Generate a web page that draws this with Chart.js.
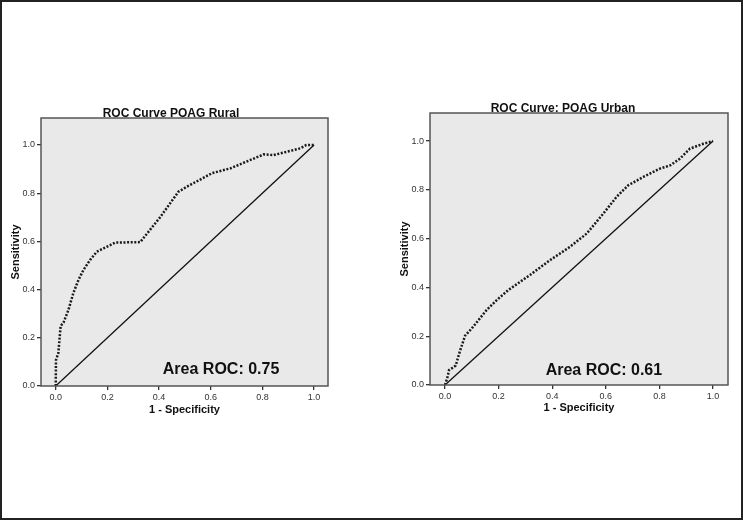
<!DOCTYPE html>
<html>
<head>
<meta charset="utf-8">
<script src="https://cdn.jsdelivr.net/npm/chart.js@4.4.1/dist/chart.umd.min.js"></script>
<style>
  html, body { margin: 0; padding: 0; background: #fff; }
  #page { position: relative; width: 743px; height: 520px; box-sizing: border-box; border: 2px solid #222; overflow: hidden; }
  .box { position: absolute; top: 88px; width: 342px; height: 340px; }
  #rural { left: -2px; }
  #urban { left: 388px; }
</style>
</head>
<body>
<div id="page">
  <div class="box" id="rural"><canvas id="ruralChart"></canvas></div>
  <div class="box" id="urban"><canvas id="urbanChart"></canvas></div>
</div>
<script>
// values
const tickValues = [0, 0.2, 0.4, 0.6, 0.8, 1.0];
const refLine = [0, 1];

const ruralFpr = [0, 0.001, 0.01, 0.019, 0.03, 0.049, 0.068, 0.088, 0.107, 0.133, 0.159, 0.185, 0.23, 0.327, 0.404, 0.475, 0.508, 0.605, 0.676, 0.805, 0.843, 0.947, 0.97, 1.0];
const ruralTpr = [0, 0.108, 0.136, 0.249, 0.263, 0.315, 0.385, 0.44, 0.481, 0.523, 0.557, 0.571, 0.595, 0.597, 0.70, 0.806, 0.827, 0.883, 0.903, 0.961, 0.958, 0.986, 1.0, 1.0];

const urbanFpr = [0, 0.009, 0.015, 0.025, 0.04, 0.056, 0.075, 0.1, 0.155, 0.193, 0.236, 0.317, 0.392, 0.466, 0.529, 0.591, 0.64, 0.684, 0.74, 0.802, 0.84, 0.877, 0.914, 0.964, 1.0];
const urbanTpr = [0, 0.031, 0.061, 0.068, 0.08, 0.14, 0.202, 0.232, 0.307, 0.348, 0.389, 0.451, 0.512, 0.566, 0.621, 0.703, 0.771, 0.819, 0.853, 0.887, 0.90, 0.928, 0.969, 0.989, 1.0];

function pts(xs, ys) {
  return xs.map((x, i) => ({ x: x, y: ys[i] }));
}

// grey plot background + full frame + titles
const framePlugin = {
  id: 'frame',
  beforeDraw(chart, args, opts) {
    const a = chart.chartArea;
    const ctx = chart.ctx;
    ctx.save();
    ctx.fillStyle = '#e9e9e9';
    ctx.fillRect(a.left, a.top, a.right - a.left, a.bottom - a.top);
    ctx.restore();
  },
  afterDraw(chart, args, opts) {
    const a = chart.chartArea;
    const ctx = chart.ctx;
    ctx.save();
    ctx.strokeStyle = '#555';
    ctx.lineWidth = 1.5;
    ctx.strokeRect(a.left, a.top, a.right - a.left, a.bottom - a.top);

    ctx.fillStyle = '#111';
    ctx.font = 'bold 12px "Liberation Sans", Arial, sans-serif';
    ctx.textAlign = 'center';
    ctx.textBaseline = 'alphabetic';
    ctx.fillText(opts.title, opts.titleX, a.top - 1);

    const xs = chart.scales.x, ys = chart.scales.y;
    ctx.font = 'bold 16px "Liberation Sans", Arial, sans-serif';
    ctx.textBaseline = 'middle';
    ctx.fillText(opts.area, xs.getPixelForValue(opts.areaX), ys.getPixelForValue(opts.areaY));
    ctx.restore();
  }
};

function makeChart(id, fpr, tpr, cfg) {
  const ctx = document.getElementById(id).getContext('2d');
  return new Chart(ctx, {
    type: 'scatter',
    data: {
      datasets: [
        {
          data: pts(fpr, tpr),
          showLine: true,
          borderColor: '#1a1a1a',
          borderWidth: 2.5,
          borderDash: [2, 1.6],
          pointRadius: 0,
          tension: 0
        },
        {
          data: pts(refLine, refLine),
          showLine: true,
          borderColor: '#111',
          borderWidth: 1.3,
          pointRadius: 0
        }
      ]
    },
    options: {
      responsive: true,
      maintainAspectRatio: false,
      animation: false,
      layout: { padding: { top: cfg.top, right: cfg.right, left: 0, bottom: 0 } },
      scales: {
        x: {
          type: 'linear',
          min: cfg.xmin,
          max: cfg.xmax,
          afterBuildTicks: s => { s.ticks = tickValues.map(v => ({ value: v })); },
          afterFit: s => { s.height = cfg.xh; },
          ticks: {
            color: '#333',
            font: { family: '"Liberation Sans", Arial, sans-serif', size: 9 },
            padding: 2,
            maxRotation: 0,
            callback: v => v.toFixed(1)
          },
          grid: { drawOnChartArea: false, drawTicks: true, tickLength: 4, color: '#333', lineWidth: 1.3 },
          border: { display: false },
          title: {
            display: true,
            text: '1 - Specificity',
            color: '#111',
            font: { family: '"Liberation Sans", Arial, sans-serif', size: 11, weight: 'bold' },
            padding: { top: 0, bottom: cfg.xtPad }
          }
        },
        y: {
          type: 'linear',
          min: 0,
          max: cfg.ymax,
          afterBuildTicks: s => { s.ticks = tickValues.map(v => ({ value: v })); },
          afterFit: s => { s.width = cfg.yw; },
          ticks: {
            color: '#333',
            font: { family: '"Liberation Sans", Arial, sans-serif', size: 9 },
            padding: 2,
            callback: v => v.toFixed(1)
          },
          grid: { drawOnChartArea: false, drawTicks: true, tickLength: 4, color: '#333', lineWidth: 1.3 },
          border: { display: false },
          title: {
            display: true,
            text: 'Sensitivity',
            color: '#111',
            font: { family: '"Liberation Sans", Arial, sans-serif', size: 11, weight: 'bold' },
            padding: { top: cfg.ytPad, bottom: 0 }
          }
        }
      },
      plugins: {
        legend: { display: false },
        tooltip: { enabled: false },
        frame: cfg.frame
      }
    },
    plugins: [framePlugin]
  });
}

makeChart('ruralChart', ruralFpr, ruralTpr, {
  top: 28, right: 14, xmin: -0.057, xmax: 1.054, ymax: 1.112,
  xh: 44, yw: 41, xtPad: 13.4, ytPad: 9.4,
  frame: { title: 'ROC Curve POAG Rural', titleX: 171, area: 'Area ROC: 0.75', areaX: 0.64, areaY: 0.066 }
});

makeChart('urbanChart', urbanFpr, urbanTpr, {
  top: 23, right: 4, xmin: -0.056, xmax: 1.056, ymax: 1.115,
  xh: 45, yw: 40, xtPad: 15.4, ytPad: 8.4,
  frame: { title: 'ROC Curve: POAG Urban', titleX: 173, area: 'Area ROC: 0.61', areaX: 0.593, areaY: 0.061 }
});
</script>
</body>
</html>
